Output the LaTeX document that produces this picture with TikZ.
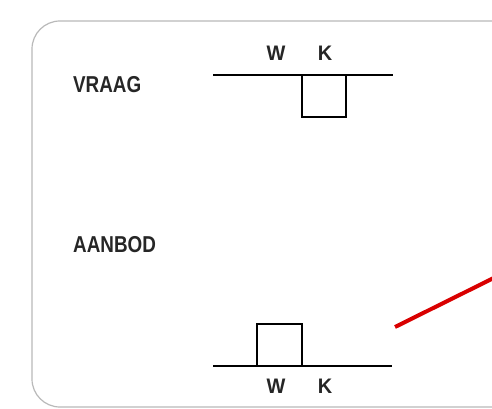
\documentclass[tikz,border=0pt]{standalone}
\usepackage{fontspec}
\setmainfont{Liberation Sans}
\usepackage{tikz}

\begin{document}
\begin{tikzpicture}[x=1pt, y=-1pt,
    lbl/.style={inner sep=0pt, xscale=0.95, font=\fontsize{21}{21}\selectfont\bfseries},
    kop/.style={inner sep=0pt, anchor=west, xscale=0.82, font=\fontsize{23}{23}\selectfont\bfseries},
    as/.style={line width=1.4pt}]
    \useasboundingbox (0,0) rectangle (492,409);
    \begin{scope}
    \clip (0,0) rectangle (492,409);
    \draw[gray!55, line width=1.2pt, rounded corners=28pt] (32,21) rectangle (540,407);
    \end{scope}
    \node[kop, text=black!85] (vraag) at (73,84.5) {VRAAG};
    \node[kop, text=black!85] (aanbod) at (73,245) {AANBOD};
    % vraag
    \draw[as] (213,75) -- (393,75);
    \draw[line width=2.2pt] (257,75.4) -- (302,75.4);
    \draw[as] (302,75) -- (302,117) -- (346,117) -- (346,75);
    \node[lbl, text=black!85] (w1) at (276,53.5) {W};
    \node[lbl, text=black!85] (k1) at (325,53.5) {K};
    % aanbod
    \draw[as] (213,366) -- (392,366);
    \draw[as] (257,366) -- (257,324) -- (302,324) -- (302,366);
    \node[lbl, text=black!85] (w2) at (276,386.5) {W};
    \node[lbl, text=black!85] (k2) at (325,386.5) {K};
    \draw[red!85!black, line width=4pt] (395,327) -- (540,255);
\end{tikzpicture}
\end{document}
